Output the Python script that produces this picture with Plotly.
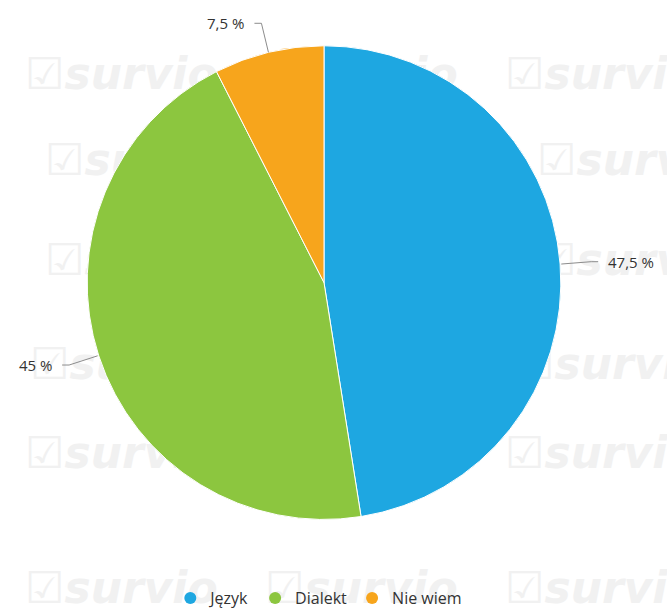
import math
import plotly.graph_objects as go

# ---- data ----
categories = ["Język", "Dialekt", "Nie wiem"]
values = [47.5, 45, 7.5]
colors = ["#1ea7e1", "#8cc63f", "#f7a51c"]

# faint background watermark tiles (pixel positions of each tile's left edge / centre line)
wm_text = "☑survio"
wm_x = [25, 265, 505, 45, 285, 537, 45, 285, 537, 30, 270, 515, 25, 265, 505, 25, 265, 505]
wm_y = [78, 78, 78, 165, 165, 165, 265, 265, 265, 370, 370, 370, 459, 459, 459, 595, 595, 595]

W, H = 667, 615
CX, CY, R = 324, 284, 238          # pie centre / radius in pixels
DIST = 30                           # label distance beyond edge


def px(x):
    return x / W


def py(y):
    return 1 - y / H


fig = go.Figure()

# watermark on a hidden cartesian layer (drawn beneath the pie)
fig.add_trace(go.Scatter(
    x=wm_x, y=wm_y, mode="text", text=[wm_text] * len(wm_x),
    textposition="middle right",
    textfont=dict(family="DejaVu Sans", size=44, color="#f1f1f1",
                  weight="bold", style="italic"),
    hoverinfo="skip", showlegend=False, cliponaxis=True))

fig.add_trace(go.Pie(
    labels=categories, values=values, sort=False, direction="clockwise",
    rotation=0, marker=dict(colors=colors, line=dict(color="#ffffff", width=1)),
    textinfo="none", hoverinfo="label+percent", showlegend=False,
    domain=dict(x=[px(CX - R), px(CX + R)], y=[py(CY + R), py(CY - R)])))

# legend entries with circle markers
for name, c in zip(categories, colors):
    fig.add_trace(go.Scatter(x=[None], y=[None], mode="markers", name=name,
                             marker=dict(symbol="circle", size=12, color=c)))

# labels + connectors computed from the data
total = sum(values)
cum = 0.0
for name, v in zip(categories, values):
    mid = (cum + v / 2) / total * 2 * math.pi
    cum += v
    s, c = math.sin(mid), math.cos(mid)
    ex, ey = CX + R * s, CY - R * c
    tx, ty = CX + (R + DIST) * s, CY - (R + DIST) * c
    right = s >= 0
    lx = tx + (7 if right else -7)
    fig.add_shape(type="path", xref="paper", yref="paper",
                  path=(f"M {px(lx):.5f} {py(ty):.5f} L {px(tx):.5f} {py(ty):.5f} "
                        f"L {px(ex):.5f} {py(ey):.5f}"),
                  line=dict(color="#8c8c8c", width=1))
    label = (f"{v:g}".replace(".", ",")) + " %"
    fig.add_annotation(x=px(tx + (15 if right else -15)), y=py(ty), xref="paper", yref="paper",
                       text=label, showarrow=False,
                       xanchor="left" if right else "right", yanchor="middle",
                       font=dict(family="Open Sans", size=15, color="#333333"))

fig.update_layout(
    width=W, height=H, margin=dict(l=0, r=0, t=0, b=0),
    paper_bgcolor="white", plot_bgcolor="white",
    xaxis=dict(range=[0, W], visible=False, fixedrange=True, domain=[0, 1]),
    yaxis=dict(range=[H, 0], visible=False, fixedrange=True, domain=[0, 1]),
    showlegend=True,
    legend=dict(orientation="h", x=0.478, xanchor="center", y=py(601), yanchor="middle",
                font=dict(family="Open Sans", size=16, color="#333333"),
                itemwidth=30, bgcolor="rgba(0,0,0,0)"),
)

fig.write_html("out.html")
